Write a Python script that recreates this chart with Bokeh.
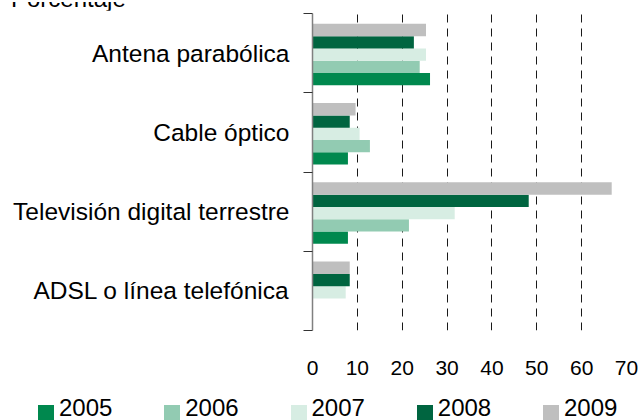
from bokeh.plotting import figure
from bokeh.layouts import column
from bokeh.models import FixedTicker, ColumnDataSource, Div
from bokeh.transform import dodge
from bokeh.embed import file_html
from bokeh.resources import INLINE

categories = ["ADSL o línea telefónica", "Televisión digital terrestre",
              "Cable óptico", "Antena parabólica"]
years = ["2005", "2006", "2007", "2008", "2009"]
v2005 = [0, 7.9, 7.9, 26.2]
v2006 = [0, 21.5, 12.8, 23.9]
v2007 = [7.4, 31.7, 10.5, 25.3]
v2008 = [8.3, 48.2, 8.3, 22.6]
v2009 = [8.3, 66.7, 9.6, 25.3]
x_ticks = [0, 10, 20, 30, 40, 50, 60, 70]
axis_title = "Porcentaje"

colors = ["#00884e", "#92cbb2", "#d7ede3", "#006540", "#bfbfbf"]
FONT = "Liberation Sans"
W = 642
TXT = "font-family:'Liberation Sans';font-size:24px;line-height:24px;color:black;white-space:nowrap"

# ---- strip on top holding the (partly cut) unit title, as in the original
top = Div(width=W, height=10, margin=0,
          text=(f'<div style="position:relative;width:{W}px;height:10px;overflow:hidden">'
                f'<div style="position:absolute;left:11px;top:-15px;{TXT}">{axis_title}</div></div>'))

# ---- main chart
src = ColumnDataSource(dict(
    y=[i + 0.5 for i in range(len(categories))],
    v2005=v2005, v2006=v2006, v2007=v2007, v2008=v2008, v2009=v2009,
))

p = figure(width=W, height=380, x_range=(0, 70), y_range=(0, 4),
           output_backend="svg", toolbar_location=None,
           min_border_left=312, min_border_right=16,
           min_border_top=3, min_border_bottom=60)
p.outline_line_color = None

bh = 0.155
shift = -0.018
for k, (yr, col) in enumerate(zip(years, colors)):
    p.hbar(y=dodge("y", shift + (k - 2) * bh, range=p.y_range),
           right="v" + yr, left=0, height=bh, source=src,
           fill_color=col, line_color=None)

p.xaxis.ticker = FixedTicker(ticks=x_ticks)
p.xaxis.axis_line_color = None
p.xaxis.major_tick_line_color = None
p.xaxis.minor_tick_line_color = None
p.xaxis.major_label_standoff = 24
p.xaxis.major_label_text_font = FONT
p.xaxis.major_label_text_font_size = "21px"
p.xaxis.major_label_text_color = "black"

centers = [i + 0.5 for i in range(len(categories))]
p.yaxis.ticker = FixedTicker(ticks=centers, minor_ticks=list(range(len(categories) + 1)))
p.yaxis.major_label_overrides = {c: cat for c, cat in zip(centers, categories)}
p.yaxis.axis_line_color = "#808080"
p.yaxis.axis_line_width = 1.5
p.yaxis.major_tick_out = 0
p.yaxis.major_tick_in = 0
p.yaxis.major_tick_line_color = None
p.yaxis.minor_tick_out = 9
p.yaxis.minor_tick_in = 0
p.yaxis.minor_tick_line_color = "#333333"
p.yaxis.minor_tick_line_width = 1
p.yaxis.major_label_standoff = 14
p.yaxis.major_label_text_font = FONT
p.yaxis.major_label_text_font_size = "24.5px"
p.yaxis.major_label_text_color = "black"

p.ygrid.grid_line_color = None
p.xgrid.ticker = FixedTicker(ticks=x_ticks[1:])
p.xgrid.grid_line_color = "#1a1a1a"
p.xgrid.grid_line_dash = "8 6"
p.xgrid.grid_line_width = 1

# ---- legend strip
item_step = 126.25
parts = []
for i, (yr, col) in enumerate(zip(years, colors)):
    x0 = 38 + i * item_step
    parts.append(f'<div style="position:absolute;left:{x0:.1f}px;top:15px;width:16px;'
                 f'height:15px;background:{col}"></div>')
    parts.append(f'<div style="position:absolute;left:{x0 + 21:.1f}px;top:6px;{TXT}">{yr}</div>')
leg = Div(width=W, height=30, margin=0,
          text=(f'<div style="position:relative;width:{W}px;height:30px;overflow:hidden">'
                + "".join(parts) + '</div>'))

layout = column(top, p, leg, spacing=0)
open("out.html", "w").write(file_html(layout, INLINE))
